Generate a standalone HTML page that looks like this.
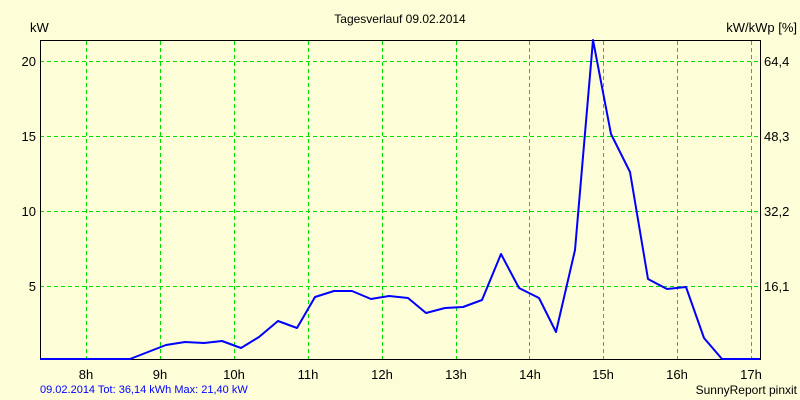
<!DOCTYPE html>
<html><head><style>
body{margin:0;background:#fdfdd8;}
svg{display:block;font-family:"Liberation Sans",sans-serif;}
</style></head><body>
<svg width="800" height="400" viewBox="0 0 800 400">
<rect width="800" height="400" fill="#fdfdd8"/>
<g stroke="#00e000" stroke-dasharray="4,3" stroke-width="1">
<line x1="86.5" y1="41" x2="86.5" y2="359"/>
<line x1="160.5" y1="41" x2="160.5" y2="359"/>
<line x1="234.5" y1="41" x2="234.5" y2="359"/>
<line x1="308.5" y1="41" x2="308.5" y2="359"/>
<line x1="382.5" y1="41" x2="382.5" y2="359"/>
<line x1="456.5" y1="41" x2="456.5" y2="359"/>
<line x1="529.5" y1="41" x2="529.5" y2="359"/>
<line x1="603.5" y1="41" x2="603.5" y2="359"/>
<line x1="677.5" y1="41" x2="677.5" y2="359"/>
<line x1="751.5" y1="41" x2="751.5" y2="359"/>
<line x1="40" y1="61.5" x2="760" y2="61.5"/>
<line x1="40" y1="136.5" x2="760" y2="136.5"/>
<line x1="40" y1="211.5" x2="760" y2="211.5"/>
<line x1="40" y1="286.5" x2="760" y2="286.5"/>
</g>
<rect x="40.5" y="40.5" width="720" height="319" fill="none" stroke="#000" stroke-width="1"/>
<polyline fill="none" stroke="#0000ff" stroke-width="2" stroke-linejoin="round" points="40,359 130,359 148,352 166,345 185,342 204,343 222,341 241,348 259,337 278,321 297,328 315,297 334,291 352,291 371,299 389,296 408,298 426,313 445,308 463,307 482,300 501,254 519,288 539,298 556,332 575,250 593,40 611,134 630,172 648,279 667,289 686,287 704,338 722,359 760,359"/>
<g font-size="13" fill="#000">
<text x="400" y="23" font-size="12" text-anchor="middle">Tagesverlauf 09.02.2014</text>
<text x="30" y="32">kW</text>
<text x="797" y="32" text-anchor="end">kW/kWp [%]</text>
<g text-anchor="end">
<text x="36" y="66">20</text><text x="36" y="141">15</text><text x="36" y="216">10</text><text x="36" y="291">5</text>
</g>
<text x="764" y="66">64,4</text><text x="764" y="141">48,3</text><text x="764" y="216">32,2</text><text x="764" y="291">16,1</text>
<g text-anchor="middle">
<text x="86" y="379">8h</text><text x="160" y="379">9h</text><text x="234" y="379">10h</text><text x="308" y="379">11h</text><text x="382" y="379">12h</text><text x="456" y="379">13h</text><text x="530" y="379">14h</text><text x="603" y="379">15h</text><text x="677" y="379">16h</text><text x="751" y="379">17h</text>
</g>
</g>
<text x="40" y="393" font-size="11" fill="#0000ff">09.02.2014 Tot: 36,14 kWh Max: 21,40 kW</text>
<text x="797" y="394" font-size="12" fill="#000" text-anchor="end">SunnyReport pinxit</text>
</svg>
</body></html>
